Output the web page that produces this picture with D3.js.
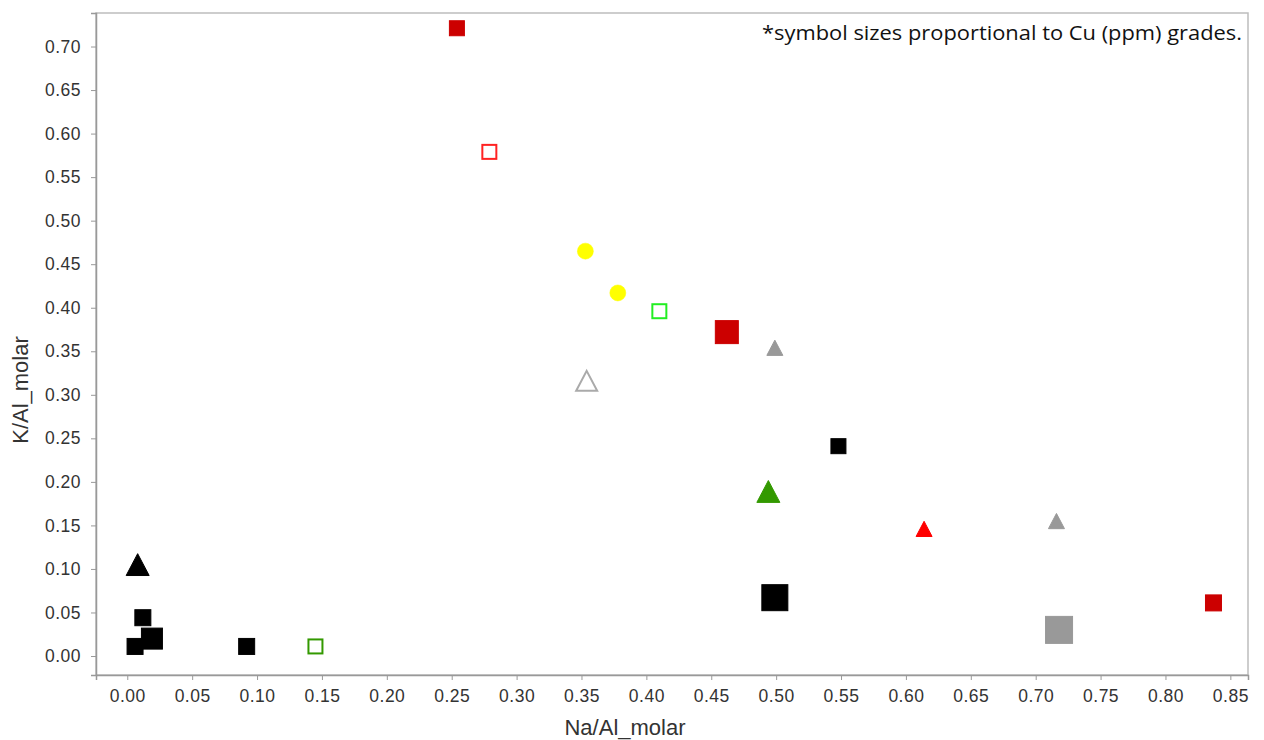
<!DOCTYPE html>
<html>
<head>
<meta charset="utf-8">
<script src="https://cdn.jsdelivr.net/npm/d3@7/dist/d3.min.js"></script>
<style>
  html, body { margin: 0; padding: 0; background: #fff; }
  svg { display: block; }
</style>
</head>
<body>
<svg id="chart" width="1264" height="740"></svg>
<script>
// Samples: molar ratios, Cu grade (drives symbol size), symbol type and colours
const naAl  = [0.254, 0.279, 0.353, 0.378, 0.410, 0.462, 0.499, 0.354, 0.548, 0.494, 0.614, 0.716, 0.008, 0.012, 0.019, 0.006, 0.092, 0.145, 0.499, 0.718, 0.837];
const kAl   = [0.721, 0.579, 0.465, 0.417, 0.396, 0.372, 0.354, 0.316, 0.241, 0.189, 0.146, 0.155, 0.105, 0.044, 0.020, 0.011, 0.011, 0.011, 0.067, 0.030, 0.061];
const cuPpm = [1600, 1500, 1700, 1700, 1500, 2400, 1700, 2300, 1600, 2400, 1700, 1700, 2400, 1700, 2200, 1700, 1700, 1500, 2700, 2800, 1700];
const shape = ["square", "square", "circle", "circle", "square", "square", "triangle", "triangle", "square", "triangle", "triangle", "triangle", "triangle", "square", "square", "square", "square", "square", "square", "square", "square"];
const fills = ["#cc0000", "none", "#ffff00", "#ffff00", "none", "#cc0000", "#999999", "none", "#000000", "#339900", "#ff0000", "#999999", "#000000", "#000000", "#000000", "#000000", "#000000", "none", "#000000", "#999999", "#cc0000"];
const strokes = ["#cc0000", "#ff2222", "#ffff00", "#ffff00", "#22ee22", "#cc0000", "#999999", "#aaaaaa", "#000000", "#339900", "#ff0000", "#999999", "#000000", "#000000", "#000000", "#000000", "#000000", "#339900", "#000000", "#999999", "#cc0000"];

const xTicks = [0.00, 0.05, 0.10, 0.15, 0.20, 0.25, 0.30, 0.35, 0.40, 0.45, 0.50, 0.55, 0.60, 0.65, 0.70, 0.75, 0.80, 0.85];
const yTicks = [0.00, 0.05, 0.10, 0.15, 0.20, 0.25, 0.30, 0.35, 0.40, 0.45, 0.50, 0.55, 0.60, 0.65, 0.70];

const xTitle = "Na/Al_molar";
const yTitle = "K/Al_molar";
const note = "*symbol sizes proportional to Cu (ppm) grades.";

const svg = d3.select("#chart");
const plot = { left: 96, top: 13, right: 1248, bottom: 675 };

const x = d3.scaleLinear().domain([-0.0241, 0.8636]).range([plot.left, plot.right]);
const y = d3.scaleLinear().domain([-0.0218, 0.7385]).range([plot.bottom, plot.top]);
const size = d3.scaleLinear().domain([1500, 2800]).range([14, 27]);

// plot frame
svg.append("rect")
  .attr("x", plot.left).attr("y", plot.top)
  .attr("width", plot.right - plot.left).attr("height", plot.bottom - plot.top)
  .attr("fill", "none").attr("stroke", "#bdbdbd").attr("stroke-width", 1.5);

const tickFont = "'Liberation Sans', Arial, sans-serif";

// x axis
const gx = svg.append("g")
  .attr("transform", `translate(0,${plot.bottom})`)
  .call(d3.axisBottom(x).tickValues(xTicks).tickFormat(d3.format(".2f")).tickSize(5).tickPadding(10));
gx.select(".domain").attr("stroke", "#999").attr("stroke-width", 1.5);
gx.selectAll(".tick line").attr("stroke", "#999");
gx.selectAll(".tick text").attr("fill", "#333").style("font-family", tickFont).style("font-size", "17.5px").style("letter-spacing", "0.5px");

// y axis
const gy = svg.append("g")
  .attr("transform", `translate(${plot.left},0)`)
  .call(d3.axisLeft(y).tickValues(yTicks).tickFormat(d3.format(".2f")).tickSize(5).tickPadding(10));
gy.select(".domain").attr("stroke", "#999").attr("stroke-width", 1.5);
gy.selectAll(".tick line").attr("stroke", "#999");
gy.selectAll(".tick text").attr("fill", "#333").style("font-family", tickFont).style("font-size", "17.5px").style("letter-spacing", "0.5px");

// axis titles
svg.append("text")
  .attr("x", 625).attr("y", 735)
  .attr("text-anchor", "middle")
  .attr("fill", "#333")
  .style("font-family", tickFont).style("font-size", "22px")
  .text(xTitle);

svg.append("text")
  .attr("transform", "translate(28,390) rotate(-90)")
  .attr("text-anchor", "middle")
  .attr("fill", "#333")
  .style("font-family", tickFont).style("font-size", "22px")
  .text(yTitle);

// note
svg.append("text")
  .attr("x", 1242).attr("y", 40)
  .attr("text-anchor", "end")
  .attr("fill", "#111")
  .attr("textLength", 480)
  .attr("lengthAdjust", "spacingAndGlyphs")
  .style("font-family", "'Open Sans', 'Noto Sans', sans-serif").style("font-size", "19.5px")
  .text(note);

// markers
const pts = naAl.map((v, i) => ({ x: v, y: kAl[i], cu: cuPpm[i], shape: shape[i], fill: fills[i], stroke: strokes[i] }));

const g = svg.append("g");
pts.forEach(p => {
  const cx = x(p.x), cy = y(p.y), s = size(p.cu);
  const open = p.fill === "none";
  if (p.shape === "square") {
    g.append("rect")
      .attr("x", cx - s / 2).attr("y", cy - s / 2)
      .attr("width", s).attr("height", s)
      .attr("fill", open ? "none" : p.fill)
      .attr("stroke", p.stroke).attr("stroke-width", open ? 2 : 1);
  } else if (p.shape === "circle") {
    g.append("circle")
      .attr("cx", cx).attr("cy", cy).attr("r", s / 2)
      .attr("fill", p.fill).attr("stroke", p.stroke).attr("stroke-width", 0.5);
  } else {
    const w = open ? s - 1 : s, h = w * 0.95;
    const path = d3.path();
    path.moveTo(cx, cy - h / 2);
    path.lineTo(cx + w / 2, cy + h / 2);
    path.lineTo(cx - w / 2, cy + h / 2);
    path.closePath();
    g.append("path")
      .attr("d", path.toString())
      .attr("fill", open ? "none" : p.fill)
      .attr("stroke", p.stroke).attr("stroke-width", open ? 2 : 1)
      .attr("stroke-linejoin", "miter");
  }
});
</script>
</body>
</html>
